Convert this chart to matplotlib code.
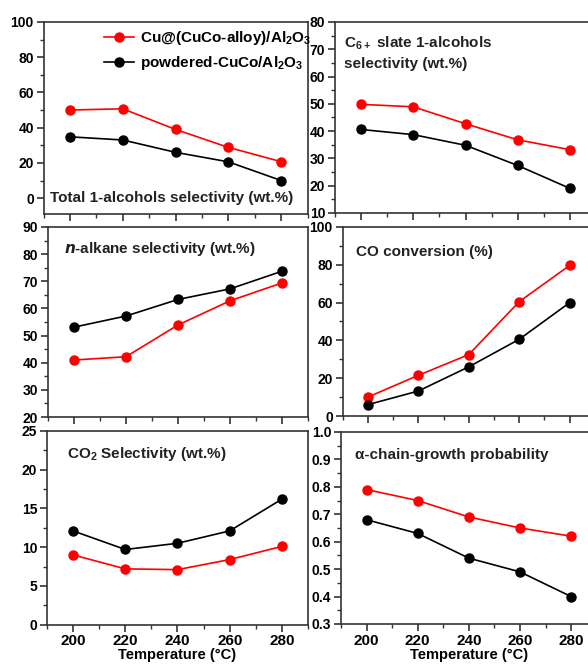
import matplotlib.pyplot as plt
from matplotlib.ticker import MultipleLocator

plt.rcParams['font.family'] = ['Liberation Sans', 'DejaVu Sans']
plt.rcParams['font.weight'] = 'bold'
plt.rcParams['mathtext.default'] = 'regular'

temps = [200, 220, 240, 260, 280]

alc_red = [50.0, 50.7, 39.0, 28.8, 20.7]
alc_blk = [34.8, 33.0, 26.0, 20.6, 10.0]
c6_red = [49.8, 48.9, 42.7, 36.8, 33.2]
c6_blk = [40.6, 38.7, 34.8, 27.4, 19.0]
alk_red = [41.0, 42.2, 53.9, 62.8, 69.4]
alk_blk = [53.1, 57.2, 63.3, 67.2, 73.7]
co_red = [10.0, 21.5, 32.5, 60.5, 79.7]
co_blk = [6.0, 13.2, 26.0, 40.6, 60.0]
co2_red = [9.0, 7.2, 7.1, 8.4, 10.1]
co2_blk = [12.1, 9.7, 10.5, 12.1, 16.2]
alpha_red = [0.79, 0.75, 0.69, 0.65, 0.62]
alpha_blk = [0.68, 0.63, 0.54, 0.49, 0.40]

lab_red = 'Cu@(CuCo-alloy)/Al$_2$O$_3$'
lab_blk = 'powdered-CuCo/Al$_2$O$_3$'

fig = plt.figure(figsize=(5.88, 6.67), dpi=100)

# [left, bottom, width, height] in figure fraction; right column runs past the edge
pos = {
    'tl': [0.074, 0.6792, 0.449, 0.2879],
    'tr': [0.5697, 0.6807, 0.444, 0.2864],
    'ml': [0.0816, 0.3748, 0.4422, 0.2849],
    'mr': [0.5825, 0.3763, 0.4294, 0.2834],
    'bl': [0.0799, 0.0635, 0.4439, 0.2904],
    'br': [0.580, 0.0645, 0.4347, 0.2879],
}

panels = [
    ('tl', alc_red, alc_blk, (-9, 100), 20, 10, 'Total 1-alcohols selectivity (wt.%)', (0.025, 0.085), 'center'),
    ('tr', c6_red, c6_blk, (10, 80), 10, 5, 'C$_{6+}$ slate 1-alcohols\nselectivity (wt.%)', (0.035, 0.935), 'top'),
    ('ml', alk_red, alk_blk, (20, 90), 10, 5, '$\\it{n}$-alkane selectivity (wt.%)', (0.06, 0.885), 'center'),
    ('mr', co_red, co_blk, (0, 100), 20, 10, 'CO conversion (%)', (0.055, 0.87), 'center'),
    ('bl', co2_red, co2_blk, (0, 25), 5, 2.5, 'CO$_2$ Selectivity (wt.%)', (0.075, 0.88), 'center'),
    ('br', alpha_red, alpha_blk, (0.3, 1.0), 0.1, 0.05, 'α-chain-growth probability', (0.055, 0.88), 'center'),
]

for key, red, blk, ylim, major, minor, title, tpos, va in panels:
    ax = fig.add_axes(pos[key])
    ax.plot(temps, red, color='#ff0000', marker='o', markersize=6.5, linewidth=1.2, label=lab_red)
    ax.plot(temps, blk, color='black', marker='o', markersize=6.5, linewidth=1.2, label=lab_blk)
    ax.set_xlim(190, 290)
    ax.set_ylim(*ylim)
    ax.xaxis.set_major_locator(MultipleLocator(20))
    ax.xaxis.set_minor_locator(MultipleLocator(10))
    ax.yaxis.set_major_locator(MultipleLocator(major))
    ax.yaxis.set_minor_locator(MultipleLocator(minor))
    ax.tick_params(which='major', direction='out', length=5, width=1.2, color='#333333', pad=2)
    ax.tick_params(which='minor', direction='out', length=3, width=1.0, color='#333333')
    ax.tick_params(axis='y', labelsize=10)
    ax.tick_params(axis='x', labelsize=11, pad=2)
    for s in ax.spines.values():
        s.set_color('#333333')
        s.set_linewidth(1.2)
    for lbl in ax.get_xticklabels() + ax.get_yticklabels():
        lbl.set_fontweight('bold')
    if key in ('bl', 'br'):
        ax.set_xlabel('Temperature (°C)', fontsize=10.5, fontweight='bold', labelpad=0)
    else:
        ax.tick_params(axis='x', labelbottom=False)
    ax.text(tpos[0], tpos[1], title, transform=ax.transAxes, fontsize=11,
            fontweight='bold', ha='left', va=va, color='#222222', linespacing=1.5)
    if key == 'tl':
        ax.legend(loc='upper right', bbox_to_anchor=(1.05, 1.01), frameon=False,
                  handlelength=2.0, handletextpad=0.4,
                  borderaxespad=0.2, labelspacing=0.45,
                  prop={'weight': 'bold', 'size': 11})

fig.savefig('out.png', dpi=100)
